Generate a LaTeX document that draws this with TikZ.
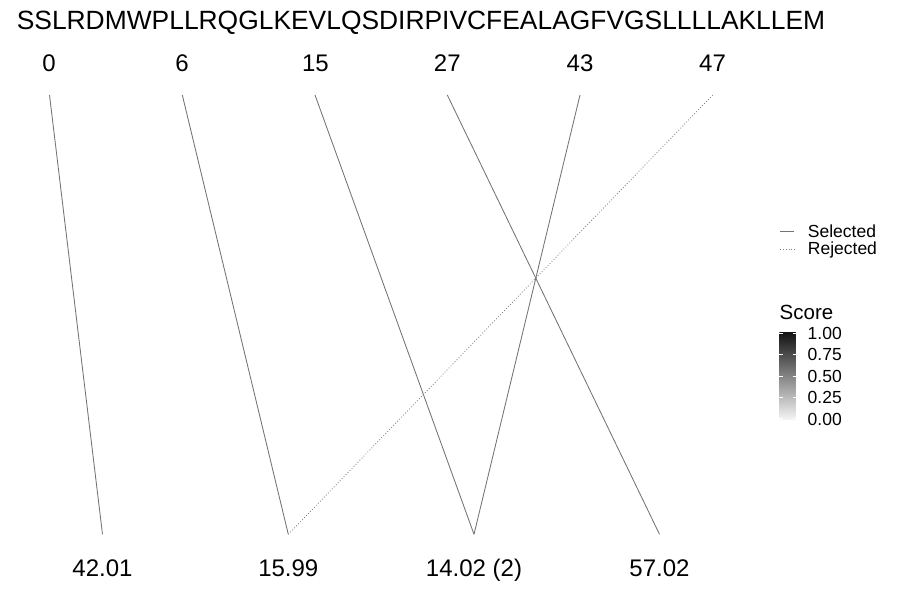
\documentclass[tikz,border=0pt]{standalone}
\usepackage{fontspec}
\setmainfont{Liberation Sans}
\begin{document}
\begin{tikzpicture}[x=1pt,y=-1pt,
  lbl/.style={inner sep=0pt, anchor=base, font=\fontsize{24}{28}\selectfont},
  ttl/.style={inner sep=0pt, anchor=base, font=\fontsize{26.4}{30}\selectfont},
  leg/.style={inner sep=0pt, anchor=base west, font=\fontsize{17.5}{20}\selectfont},
  sel/.style={draw=black!55, line width=0.85pt},
  rej/.style={draw=black!50, line width=0.85pt, dotted},
  tickw/.style={draw=white, line width=0.6pt}]
\useasboundingbox (0,0) rectangle (900,600);
% title
\node[ttl] (title) at (421,29.3) {SSLRDMWPLLRQGLKEVLQSDIRPIVCFEALAGFVGSLLLLAKLLEM};
% top positions
\node[lbl] (l0)  at (49,71.7)  {0};
\node[lbl] (l6)  at (182,71.7) {6};
\node[lbl] (l15) at (315.5,71.7) {15};
\node[lbl] (l27) at (447.3,71.7) {27};
\node[lbl] (l43) at (580,71.7) {43};
\node[lbl] (l47) at (712.5,71.7) {47};
\coordinate (t0)  at (49.5,95);
\coordinate (t6)  at (182.3,95);
\coordinate (t15) at (315,95);
\coordinate (t27) at (447.3,95);
\coordinate (t43) at (580,95);
\coordinate (t47) at (712.7,95);
% bottom masses
\coordinate (b1) at (102.5,534.3);
\coordinate (b2) at (288.3,534.3);
\coordinate (b3) at (474,534.3);
\coordinate (b4) at (659.5,534.3);
\node[lbl] (m1) at (102.5,576.7) {42.01};
\node[lbl] (m2) at (288.3,576.7) {15.99};
\node[lbl] (m3) at (474,576.7) {14.02 (2)};
\node[lbl] (m4) at (659.5,576.7) {57.02};
% connectors
\draw[sel] (t0) -- (b1);
\draw[sel] (t6) -- (b2);
\draw[sel] (t15) -- (b3);
\draw[sel] (t27) -- (b4);
\draw[sel] (t43) -- (b3);
\draw[rej] (t47) -- (b2);
% legend: line types
\coordinate (ks1) at (780,231.7);
\coordinate (ke1) at (794.3,231.7);
\coordinate (ks2) at (780,249);
\coordinate (ke2) at (794.3,249);
\draw[sel] (ks1) -- (ke1);
\draw[rej] (ks2) -- (ke2);
\node[leg] (selt) at (807.7,237.3) {Selected};
\node[leg] (rejt) at (807.7,254.2) {Rejected};
% legend: score bar
\node[inner sep=0pt, anchor=base west, font=\fontsize{20.5}{24}\selectfont] (score) at (779.5,319.3) {Score};
\shade[top color=black!93, bottom color=black!4] (779.3,332) rectangle (795.8,419.5);
\foreach \yy/\tx [count=\i] in {333/1.00,354.4/0.75,375.9/0.50,397.3/0.25,418.7/0.00}{
  \draw[tickw] (779.3,\yy) -- (782.6,\yy);
  \draw[tickw] (792.5,\yy) -- (795.8,\yy);
  \node[leg] (sc\i) at (807.5,\yy+6.3) {\tx};
}
\end{tikzpicture}
\end{document}
